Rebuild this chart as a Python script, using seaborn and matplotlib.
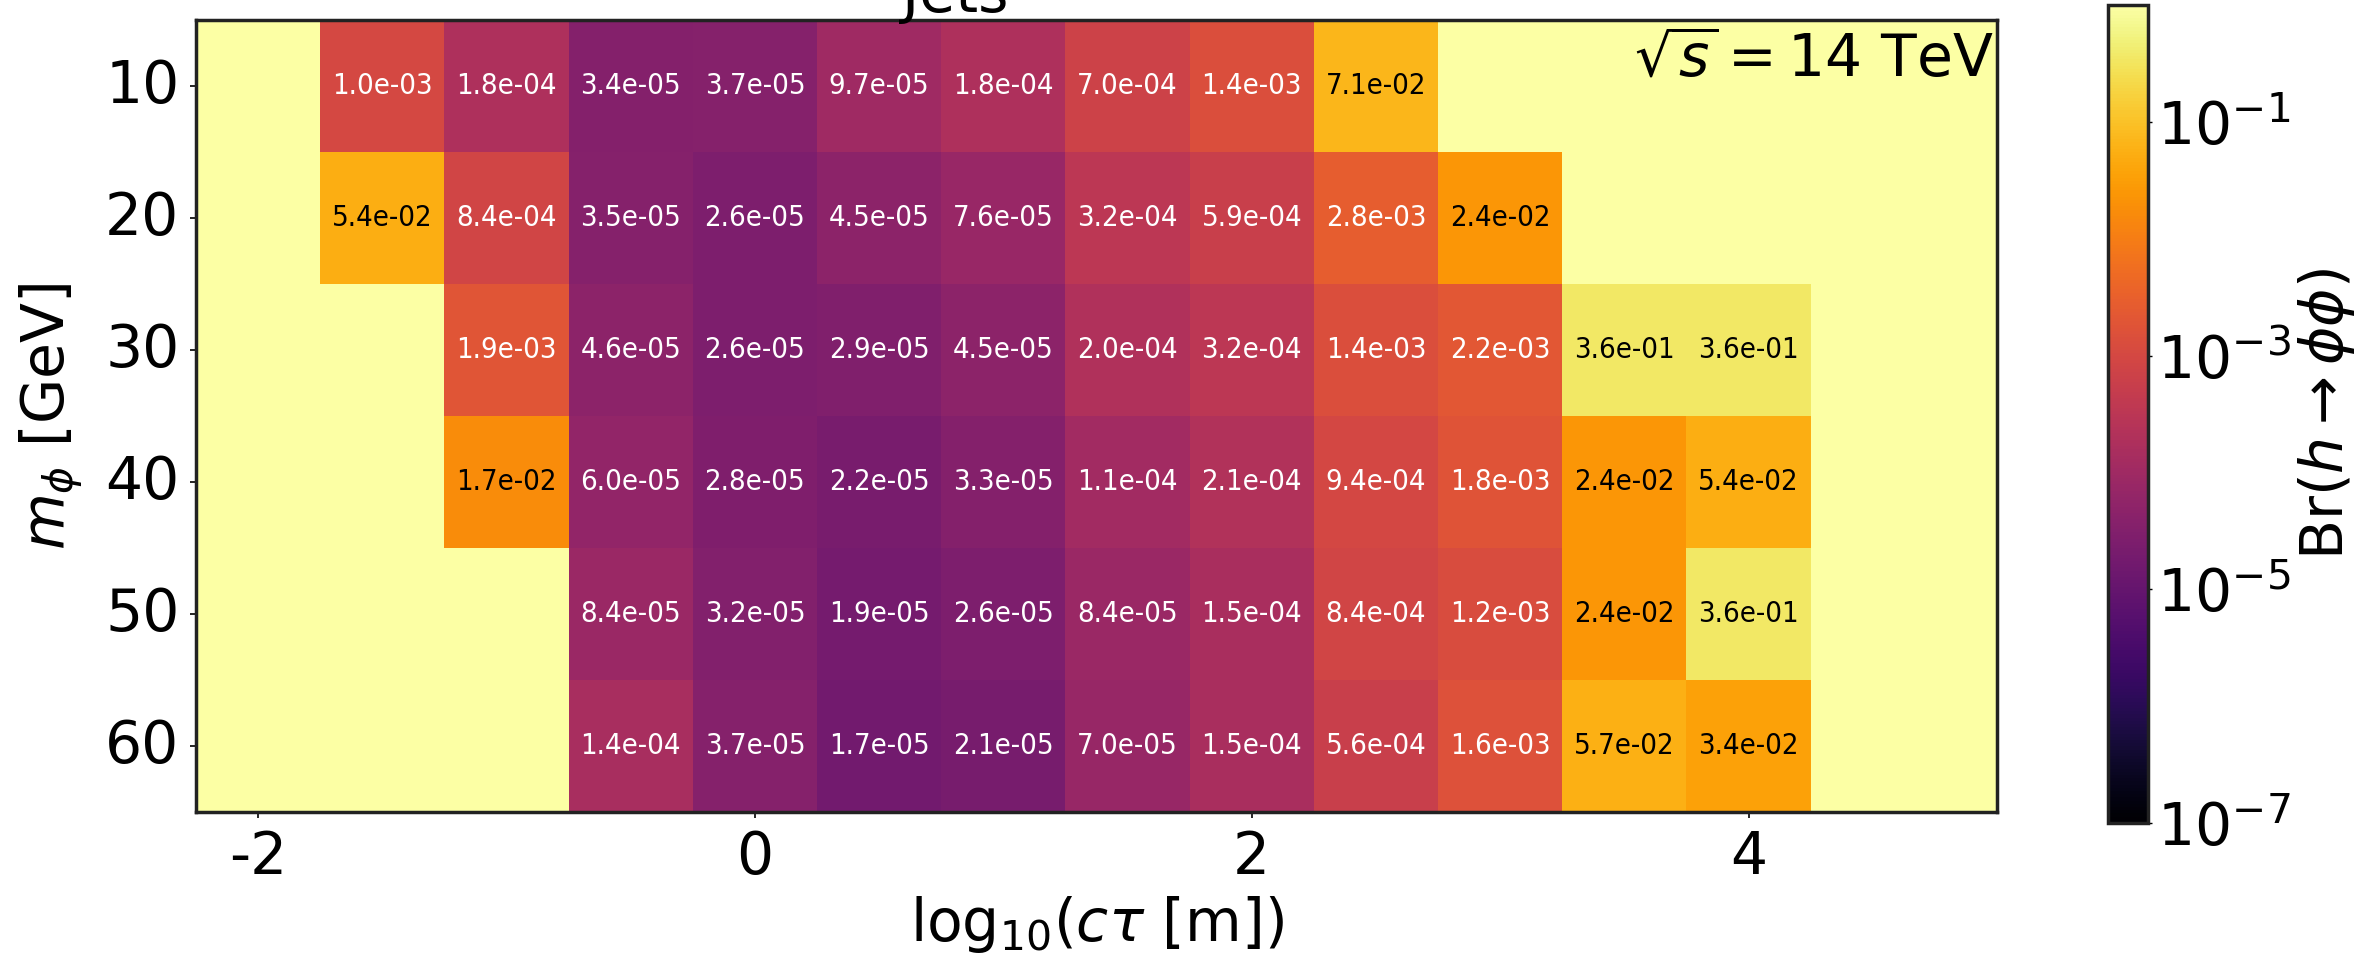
import numpy as np
import pandas as pd
import matplotlib
matplotlib.use("Agg")
import matplotlib.pyplot as plt
import seaborn as sns
from matplotlib.colors import LogNorm

# ---------------- data ----------------
log_ctau = [-2.0, -1.5, -1.0, -0.5, 0.0, 0.5, 1.0, 1.5, 2.0, 2.5, 3.0, 3.5, 4.0, 4.5]
masses = [10, 20, 30, 40, 50, 60]
nan = np.nan
br_m10 = [nan, 1.0e-03, 1.8e-04, 3.4e-05, 3.7e-05, 9.7e-05, 1.8e-04, 7.0e-04, 1.4e-03, 7.1e-02, nan, nan, nan, nan]
br_m20 = [nan, 5.4e-02, 8.4e-04, 3.5e-05, 2.6e-05, 4.5e-05, 7.6e-05, 3.2e-04, 5.9e-04, 2.8e-03, 2.4e-02, nan, nan, nan]
br_m30 = [nan, nan, 1.9e-03, 4.6e-05, 2.6e-05, 2.9e-05, 4.5e-05, 2.0e-04, 3.2e-04, 1.4e-03, 2.2e-03, 3.6e-01, 3.6e-01, nan]
br_m40 = [nan, nan, 1.7e-02, 6.0e-05, 2.8e-05, 2.2e-05, 3.3e-05, 1.1e-04, 2.1e-04, 9.4e-04, 1.8e-03, 2.4e-02, 5.4e-02, nan]
br_m50 = [nan, nan, nan, 8.4e-05, 3.2e-05, 1.9e-05, 2.6e-05, 8.4e-05, 1.5e-04, 8.4e-04, 1.2e-03, 2.4e-02, 3.6e-01, nan]
br_m60 = [nan, nan, nan, 1.4e-04, 3.7e-05, 1.7e-05, 2.1e-05, 7.0e-05, 1.5e-04, 5.6e-04, 1.6e-03, 5.7e-02, 3.4e-02, nan]
x_ticks = [-2, 0, 2, 4]
cbar_ticks = [1e-1, 1e-3, 1e-5, 1e-7]
x_range = [-2.25, 5.0]

df = pd.DataFrame([br_m10, br_m20, br_m30, br_m40, br_m50, br_m60],
                  index=masses, columns=log_ctau)

FS = 42
W, H = 2372, 959
fig = plt.figure(figsize=(W / 100, H / 100), dpi=100)
ax = fig.add_axes([196 / W, 1 - 812 / H, (1997 - 196) / W, (812 - 20) / H])
cax = fig.add_axes([2108 / W, 1 - 823 / H, 40 / W, 818 / H])

cmap = plt.get_cmap("inferno")
sns.heatmap(df, ax=ax, cbar_ax=cax, cmap=cmap, norm=LogNorm(1e-7, 1),
            annot=True, fmt=".1e",
            annot_kws={"fontsize": 21, "fontstretch": "condensed"},
            cbar_kws={"ticks": cbar_ticks}, linewidths=0)

for t in ax.texts:
    v = float(t.get_text())
    t.set_color("black" if v >= 1e-2 else "white")

ax.set_facecolor(cmap(1.0))

# map data coordinate to heatmap column position
step = log_ctau[1] - log_ctau[0]
def xpos(x):
    return (x - log_ctau[0]) / step + 0.5

ax.set_xlim(xpos(x_range[0]), xpos(x_range[1]))
ax.set_xticks([xpos(t) for t in x_ticks])
ax.set_xticklabels([str(t) for t in x_ticks], rotation=0, fontsize=FS)
ax.set_yticklabels([str(m) for m in masses], rotation=0, fontsize=FS)
ax.tick_params(length=4, width=1.2, pad=8)

for sp in ax.spines.values():
    sp.set_visible(True)
    sp.set_linewidth(2.5)
    sp.set_color("#222222")

ax.set_xlabel(r"log$_{10}$($c\tau$ [m])", fontsize=FS, labelpad=6)
ax.set_ylabel(r"$m_\phi$ [GeV]", fontsize=FS, labelpad=14)

ax.text(0.998, 0.985, r"$\sqrt{s}=14$ TeV", transform=ax.transAxes,
        ha="right", va="top", fontsize=FS)

fig.text(955 / W, 1 - 12 / H, "Jets", ha="center", va="baseline", fontsize=FS)

cb = ax.collections[0].colorbar
cb.outline.set_visible(True)
cb.outline.set_linewidth(2.5)
cb.outline.set_edgecolor("#222222")
cb.ax.minorticks_off()
cb.ax.tick_params(labelsize=FS, length=3, width=1)
cb.set_label(r"Br$(h\rightarrow\phi\phi)$", fontsize=FS, labelpad=4)

fig.savefig("out.png", dpi=100)
